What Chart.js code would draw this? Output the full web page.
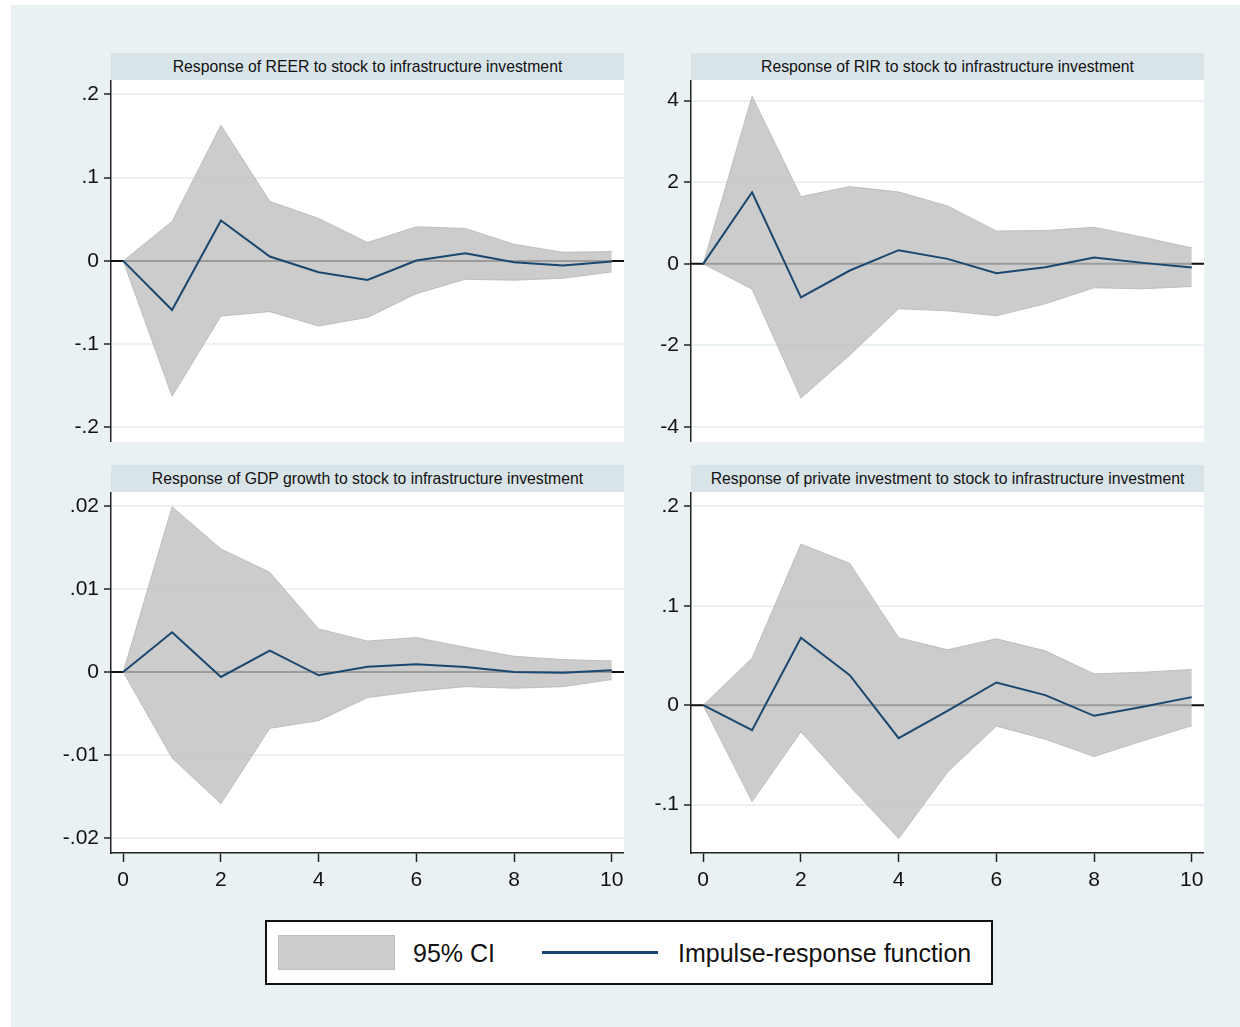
<!DOCTYPE html>
<html>
<head>
<meta charset="utf-8">
<script src="https://cdn.jsdelivr.net/npm/chart.js@4.4.1/dist/chart.umd.min.js"></script>
<style>
  body { margin: 0; width: 1240px; height: 1027px; background: #fff; position: relative; overflow: hidden;
         font-family: "Liberation Sans", Arial, sans-serif; color: #111; }
  #frame { position: absolute; left: 11px; top: 5px; right: 0; bottom: 0; background: #EAF1F3; }
  .hdr { position: absolute; width: 513px; height: 27px; line-height: 27px; background: #D9E4E9;
         text-align: center; font-size: 15.75px; white-space: nowrap; }
  .pan { position: absolute; }
  #legend { position: absolute; left: 265px; top: 920px; width: 728px; height: 65px; box-sizing: border-box;
            border: 2px solid #111; background: #fff; }
  .lg { position: absolute; }
  .lgtxt { position: absolute; font-size: 25px; line-height: 30px; top: 938px; white-space: nowrap; }
</style>
</head>
<body>
<div id="frame"></div>

<div class="hdr" style="left:111px; top:53px;">Response of REER to stock to infrastructure investment</div>
<div class="hdr" style="left:691px; top:53px;">Response of RIR to stock to infrastructure investment</div>
<div class="hdr" style="left:111px; top:465px;">Response of GDP growth to stock to infrastructure investment</div>
<div class="hdr" style="left:691px; top:465px;">Response of private investment to stock to infrastructure investment</div>

<canvas id="cReer" class="pan" width="573" height="362" style="left:51px; top:80px; width:573px; height:362px;"></canvas>
<canvas id="cRir" class="pan" width="573" height="362" style="left:631px; top:80px; width:573px; height:362px;"></canvas>
<canvas id="cGdp" class="pan" width="573" height="407" style="left:51px; top:492px; width:573px; height:407px;"></canvas>
<canvas id="cPinv" class="pan" width="573" height="407" style="left:631px; top:492px; width:573px; height:407px;"></canvas>

<div id="legend"></div>
<div class="lg" style="left:278px; top:935px; width:115px; height:33px; background:#CCCCCC; border:1px solid #BEBEBE;"></div>
<div class="lgtxt" style="left:413px;">95% CI</div>
<div class="lg" style="left:542px; top:951px; width:116px; height:3px; background:#1A476F;"></div>
<div class="lgtxt" style="left:678px;">Impulse-response function</div>

<script>
// ------------------------------------------------------------
// Data
// ------------------------------------------------------------
const horizon = [0, 1, 2, 3, 4, 5, 6, 7, 8, 9, 10];
const xTicks = [0, 2, 4, 6, 8, 10];

const reerIrf = [0, -0.059, 0.0486, 0.0052, -0.0137, -0.0229, 0.0004, 0.0092, -0.0016, -0.0056, -0.0008];
const reerHi  = [0, 0.0474, 0.163, 0.0715, 0.051, 0.0221, 0.041, 0.039, 0.020, 0.0104, 0.0112];
const reerLo  = [0, -0.1627, -0.0663, -0.061, -0.0783, -0.0679, -0.0394, -0.0221, -0.0233, -0.0209, -0.0133];
const reerTicks = [0.2, 0.1, 0, -0.1, -0.2];
const reerTickLabels = ['.2', '.1', '0', '-.1', '-.2'];

const rirIrf = [0, 1.755, -0.824, -0.163, 0.335, 0.122, -0.229, -0.082, 0.155, 0.024, -0.09];
const rirHi  = [0, 4.11, 1.649, 1.894, 1.763, 1.42, 0.808, 0.816, 0.898, 0.653, 0.392];
const rirLo  = [0, -0.62, -3.29, -2.237, -1.102, -1.151, -1.273, -0.98, -0.588, -0.612, -0.555];
const rirTicks = [4, 2, 0, -2, -4];
const rirTickLabels = ['4', '2', '0', '-2', '-4'];

const gdpIrf = [0, 0.00478, -0.0006, 0.00257, -0.0004, 0.00064, 0.00092, 0.0006, 0.0, -0.0001, 0.0002];
const gdpHi  = [0, 0.01988, 0.01482, 0.0120, 0.00518, 0.00373, 0.00414, 0.00297, 0.00189, 0.00149, 0.00133];
const gdpLo  = [0, -0.01036, -0.01586, -0.00679, -0.00586, -0.00309, -0.00233, -0.00177, -0.00197, -0.00177, -0.00092];
const gdpTicks = [0.02, 0.01, 0, -0.01, -0.02];
const gdpTickLabels = ['.02', '.01', '0', '-.01', '-.02'];

const pinvIrf = [0, -0.0252, 0.0678, 0.0302, -0.0332, -0.0057, 0.0228, 0.0101, -0.0107, -0.0017, 0.0081];
const pinvHi  = [0, 0.0473, 0.162, 0.1426, 0.0678, 0.0557, 0.0668, 0.0547, 0.0315, 0.0332, 0.0359];
const pinvLo  = [0, -0.097, -0.0268, -0.0815, -0.1342, -0.0674, -0.0211, -0.0342, -0.0517, -0.0359, -0.0208];
const pinvTicks = [0.2, 0.1, 0, -0.1];
const pinvTickLabels = ['.2', '.1', '0', '-.1'];

// ------------------------------------------------------------
// Styling
// ------------------------------------------------------------
const IRF_COLOR = '#1A476F';
const CI_FILL = 'rgba(191,191,191,0.8)';
const CI_EDGE = 'rgba(175,175,175,0.7)';
const GRID_COLOR = '#EAF2F3';
const AXIS_COLOR = '#222';
const FONT = '"Liberation Sans", Arial, sans-serif';

// white plot region, then a zero reference line under the CI band
const plotBg = {
  id: 'plotBg',
  beforeDraw(chart) {
    const { ctx, chartArea: a } = chart;
    ctx.save();
    ctx.fillStyle = '#fff';
    ctx.fillRect(a.left, a.top, a.right - a.left, a.bottom - a.top);
    ctx.restore();
  },
};

const zeroLine = {
  id: 'zeroLine',
  beforeDatasetsDraw(chart) {
    const { ctx, chartArea, scales } = chart;
    const y = scales.y.getPixelForValue(0);
    ctx.save();
    ctx.strokeStyle = '#111';
    ctx.lineWidth = 2;
    ctx.beginPath();
    ctx.moveTo(chartArea.left, y);
    ctx.lineTo(chartArea.right, y);
    ctx.stroke();
    ctx.restore();
  },
};

function points(values) {
  return horizon.map((h, i) => ({ x: h, y: values[i] }));
}

function makePanel(id, irf, lo, hi, yTicks, yLabels, yMin, yMax, showX) {
  new Chart(document.getElementById(id), {
    type: 'line',
    data: {
      datasets: [
        { data: points(hi), order: 3, borderColor: CI_EDGE, borderWidth: 1, backgroundColor: CI_FILL, fill: '+1', pointRadius: 0, tension: 0 },
        { data: points(lo), order: 2, borderColor: CI_EDGE, borderWidth: 1, fill: false, pointRadius: 0, tension: 0 },
        { data: points(irf), order: 0, borderColor: IRF_COLOR, borderWidth: 2, fill: false, pointRadius: 0, tension: 0 },
      ],
    },
    options: {
      responsive: false,
      maintainAspectRatio: false,
      animation: false,
      layout: { padding: 0 },
      plugins: { legend: { display: false }, tooltip: { enabled: false } },
      scales: {
        x: {
          type: 'linear',
          min: -0.25,
          max: 10.25,
          display: showX,
          afterBuildTicks: (s) => { s.ticks = xTicks.map(v => ({ value: v })); },
          afterFit: (s) => {
            s.height = showX ? 46 : 0;
            s.paddingLeft = 0;
            s.paddingRight = 0;
          },
          grid: { drawOnChartArea: false, drawTicks: true, tickLength: 9, tickColor: AXIS_COLOR, tickWidth: 1.5 },
          border: { display: true, color: AXIS_COLOR, width: 1.5 },
          ticks: { color: '#111', padding: 6, maxRotation: 0, font: { family: FONT, size: 21 } },
        },
        y: {
          type: 'linear',
          min: yMin,
          max: yMax,
          afterBuildTicks: (s) => { s.ticks = yTicks.map(v => ({ value: v })); },
          afterFit: (s) => {
            s.width = 60;
            s.paddingTop = 0;
            s.paddingBottom = 0;
          },
          grid: { color: GRID_COLOR, lineWidth: 2, drawTicks: true, tickLength: 7, tickColor: AXIS_COLOR, tickWidth: 1.5 },
          border: { display: true, color: AXIS_COLOR, width: 1.5 },
          ticks: {
            color: '#111',
            padding: 5,
            font: { family: FONT, size: 21 },
            callback: (v) => {
              const i = yTicks.findIndex(t => Math.abs(t - v) < 1e-9);
              return i >= 0 ? yLabels[i] : '';
            },
          },
        },
      },
    },
    plugins: [plotBg, zeroLine],
  });
}

makePanel('cReer', reerIrf, reerLo, reerHi, reerTicks, reerTickLabels, -0.2175, 0.2172, false);
makePanel('cRir', rirIrf, rirLo, rirHi, rirTicks, rirTickLabels, -4.366, 4.506, false);
makePanel('cGdp', gdpIrf, gdpLo, gdpHi, gdpTicks, gdpTickLabels, -0.0218, 0.02167, true);
makePanel('cPinv', pinvIrf, pinvLo, pinvHi, pinvTicks, pinvTickLabels, -0.1487, 0.2144, true);
</script>
</body>
</html>
